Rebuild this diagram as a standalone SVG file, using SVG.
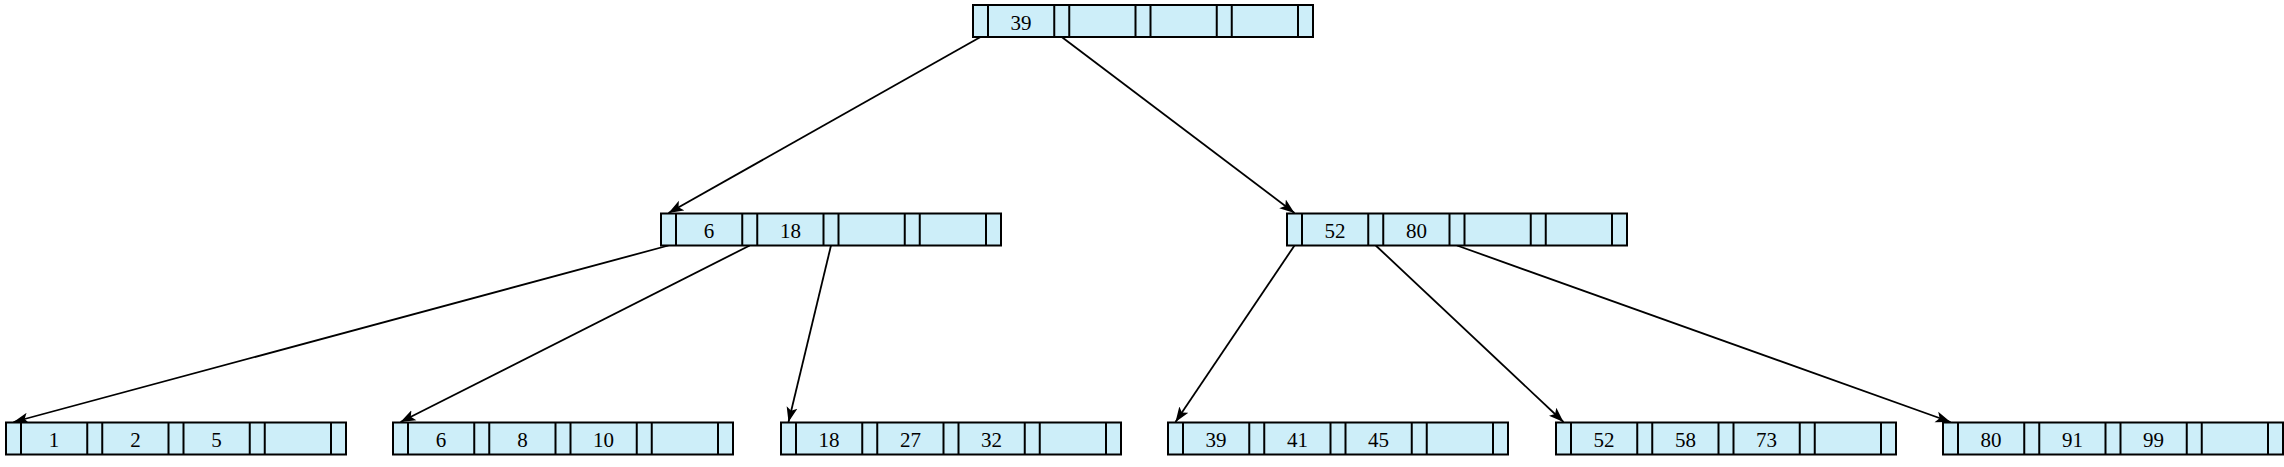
<svg xmlns="http://www.w3.org/2000/svg" width="2284" height="467" viewBox="0 0 2284 467">
<style>
.box{fill:#cdeef9;stroke:#000;stroke-width:2}
.div{stroke:#000;stroke-width:2}
.key{font-family:"Liberation Serif","Times New Roman",serif;font-size:21px;text-anchor:middle;fill:#000}
.edge{stroke:#000;stroke-width:1.8;fill:none;marker-end:url(#arr)}
</style>
<defs>
<marker id="arr" markerUnits="userSpaceOnUse" markerWidth="16" markerHeight="12" viewBox="0 0 16 12" refX="15" refY="6" orient="auto">
<path d="M0,0.5 L15,6 L0,11.5 L3.5,6 Z" fill="#000"/>
</marker>
<g id="cells">
<rect class="box" x="0" y="0" width="340" height="32"/>
<path class="div" d="M15,0V32M81.25,0V32M96.25,0V32M162.5,0V32M177.5,0V32M243.75,0V32M258.75,0V32M325,0V32"/>
</g>
</defs>
<g id="connectors">
<line class="edge" x1="980.5" y1="37" x2="668.5" y2="213"/>
<line class="edge" x1="1061.75" y1="37" x2="1294.5" y2="213"/>
<line class="edge" x1="668.5" y1="245.5" x2="13.5" y2="422"/>
<line class="edge" x1="749.75" y1="245.5" x2="400.5" y2="422"/>
<line class="edge" x1="831" y1="245.5" x2="788.5" y2="422"/>
<line class="edge" x1="1294.5" y1="245.5" x2="1175.5" y2="422"/>
<line class="edge" x1="1375.75" y1="245.5" x2="1563.5" y2="422"/>
<line class="edge" x1="1457" y1="245.5" x2="1950.5" y2="422"/>
</g>
<g id="root" transform="translate(973,5)">
<use href="#cells"/>
<text class="key" x="48.1" y="24.5">39</text>
</g>
<g id="n6_18" transform="translate(661,213.5)">
<use href="#cells"/>
<text class="key" x="48.1" y="24.5">6</text>
<text class="key" x="129.4" y="24.5">18</text>
</g>
<g id="n52_80" transform="translate(1287,213.5)">
<use href="#cells"/>
<text class="key" x="48.1" y="24.5">52</text>
<text class="key" x="129.4" y="24.5">80</text>
</g>
<g id="leaf1" transform="translate(6,422.5)">
<use href="#cells"/>
<text class="key" x="48.1" y="24.5">1</text>
<text class="key" x="129.4" y="24.5">2</text>
<text class="key" x="210.6" y="24.5">5</text>
</g>
<g id="leaf2" transform="translate(393,422.5)">
<use href="#cells"/>
<text class="key" x="48.1" y="24.5">6</text>
<text class="key" x="129.4" y="24.5">8</text>
<text class="key" x="210.6" y="24.5">10</text>
</g>
<g id="leaf3" transform="translate(781,422.5)">
<use href="#cells"/>
<text class="key" x="48.1" y="24.5">18</text>
<text class="key" x="129.4" y="24.5">27</text>
<text class="key" x="210.6" y="24.5">32</text>
</g>
<g id="leaf4" transform="translate(1168,422.5)">
<use href="#cells"/>
<text class="key" x="48.1" y="24.5">39</text>
<text class="key" x="129.4" y="24.5">41</text>
<text class="key" x="210.6" y="24.5">45</text>
</g>
<g id="leaf5" transform="translate(1556,422.5)">
<use href="#cells"/>
<text class="key" x="48.1" y="24.5">52</text>
<text class="key" x="129.4" y="24.5">58</text>
<text class="key" x="210.6" y="24.5">73</text>
</g>
<g id="leaf6" transform="translate(1943,422.5)">
<use href="#cells"/>
<text class="key" x="48.1" y="24.5">80</text>
<text class="key" x="129.4" y="24.5">91</text>
<text class="key" x="210.6" y="24.5">99</text>
</g>
</svg>
